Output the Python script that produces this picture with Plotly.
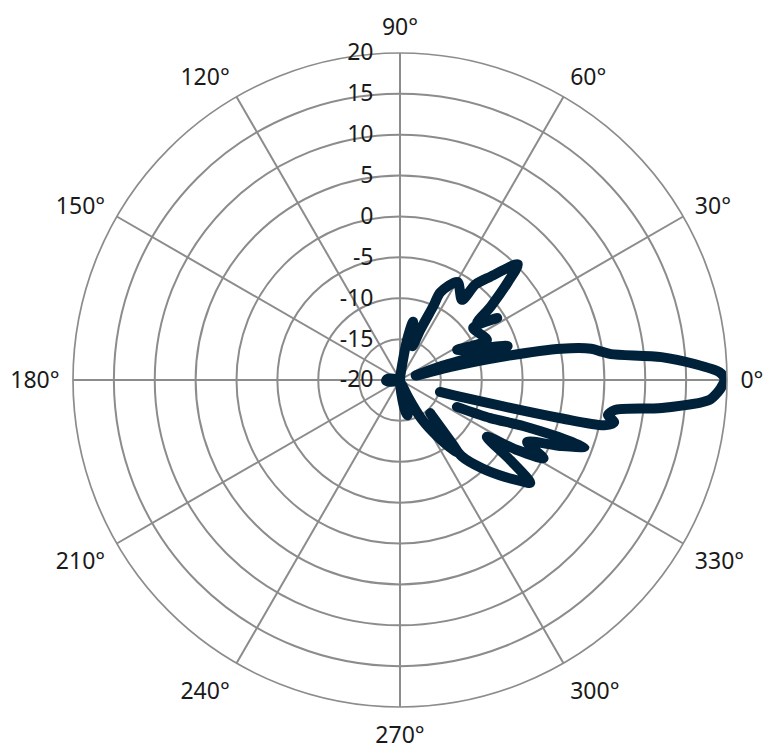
import plotly.graph_objects as go

# Pattern trace: angle (deg) and level (dB)
theta_deg = [
    343.3, 344.5, 346.6, 347.5, 348.8, 350.4, 352.0, 353.9, 356.3, 357.8, 359.2, 0.0,
    0.6, 1.4, 3.1, 5.0, 7.0, 8.0, 9.3, 11.0, 12.9, 14.6, 16.0,
    18.5, 17.5, 27.8, 24.7, 35.5, 32.6, 36.5, 39.0, 42.2, 44.5,
    48.8, 51.7, 52.3, 59.6, 65.3, 65.7, 68.0, 70.0, 77.4, 80.0, 81.5, 85.0, 90.0,
    120.0, 160.0, 168.0, 176.0, 183.0, 190.0, 198.0, 230.0, 265.0,
    272.0, 277.0, 280.0, 282.2, 284.5, 287.0, 290.0,
    295.2, 299.0, 303.7, 308.4, 312.3, 309.0, 313.0, 317.3, 320.0, 321.7,
    324.0, 326.8, 329.0, 331.4, 334.0, 337.6, 340.1, 339.6, 337.1, 334.7,
]
level_db = [
    -14.9, -12.0, 0.2, 5.6, 6.7, 5.8, 6.5, 12.2, 17.9, 18.9, 19.5, 19.7,
    19.6, 19.1, 16.1, 12.1, 6.0, 4.9, 3.7, 0.1, -7.4, -13.6, -18.0,
    -15.0, -6.2, -12.1, -8.3, -9.0, -5.9, -8.3, -5.7, -2.2, 0.2,
    -3.2, -5.1, -7.6, -6.1, -8.2, -10.0, -13.4, -15.6, -12.7, -15.0, -17.5, -19.5, -20.0,
    -20.0, -20.0, -19.2, -18.4, -18.3, -18.8, -19.6, -20.0, -20.0,
    -19.6, -17.5, -16.0, -15.6, -16.8, -19.0, -19.5,
    -17.7, -14.5, -11.6, -8.5, -14.5, -8.0, -5.2, -2.5, -0.8, 0.3,
    -3.3, -7.3, -3.5, 0.0, -2.7, 1.2, 4.0, -3.7, -8.0, -12.3,
]

ring_vals = [-20, -15, -10, -5, 0, 5, 10, 15, 20]
ring_text = ["-20", "-15", "-10", "-5", "0", "5", "10", "15", "20"]
angle_vals = [0, 30, 60, 90, 120, 150, 180, 210, 240, 270, 300, 330]
angle_text = ["0°", "30°", "60°", "90°", "120°", "150°", "180°", "210°", "240°", "270°", "300°", "330°"]

GRID = "#8c8c8c"
FONT = "Noto Sans"
FS = 23

fig = go.Figure()
fig.add_trace(go.Scatterpolar(
    r=level_db, theta=theta_deg, mode="lines",
    line=dict(color="#00213a", width=10, shape="spline", smoothing=0.8),
    hoverinfo="skip", showlegend=False,
))

W, H = 766, 754
cx, cy, R = 400, 380, 327
fig.update_layout(
    width=W, height=H,
    margin=dict(l=0, r=0, t=0, b=0),
    paper_bgcolor="white",
    showlegend=False,
    polar=dict(
        domain=dict(x=[(cx - R) / W, (cx + R) / W],
                    y=[(H - cy - R) / H, (H - cy + R) / H]),
        bgcolor="white",
        radialaxis=dict(
            range=[-20, 20], tickmode="array", tickvals=ring_vals, ticktext=ring_text,
            angle=90, side="counterclockwise", tickangle=90,
            showline=False, gridcolor=GRID, gridwidth=1.7,
            ticks="outside", ticklen=18, tickcolor="rgba(0,0,0,0)",
            tickfont=dict(family=FONT, size=FS, color="#1a1a1a"),
        ),
        angularaxis=dict(
            direction="counterclockwise", rotation=0,
            tickmode="array", tickvals=angle_vals, ticktext=angle_text,
            showline=True, linecolor=GRID, linewidth=1.7,
            gridcolor=GRID, gridwidth=1.7,
            ticks="outside", ticklen=8, tickcolor="rgba(0,0,0,0)",
            tickfont=dict(family=FONT, size=FS, color="#1a1a1a"),
        ),
    ),
)

page_js = (
    "document.body.style.margin='0';document.body.style.overflow='hidden';"
    "var gd=document.querySelector('.plotly-graph-div');"
    "function rj(){document.querySelectorAll('.scatterlayer path.js-line').forEach("
    "function(p){p.style.strokeLinejoin='round';p.style.strokeLinecap='round';});}"
    "rj();gd.on('plotly_afterplot',rj);"
)
fig.write_html("out.html", post_script=page_js, config={"displayModeBar": False})
